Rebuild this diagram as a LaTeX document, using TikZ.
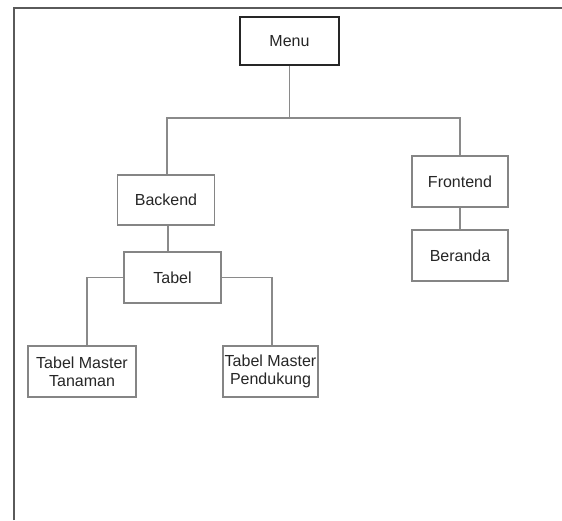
\documentclass[tikz,border=0pt]{standalone}
\usepackage{fontspec}
\setmainfont{Liberation Sans}
\definecolor{boxline}{HTML}{858585}
\definecolor{conn}{HTML}{8A8A8A}
\definecolor{frameline}{HTML}{5A5A5A}
\definecolor{txt}{HTML}{262626}
\begin{document}
\begin{tikzpicture}[x=1pt,y=-1pt,
  box/.style={draw=boxline,line width=1.1pt,rectangle,inner sep=0pt,align=center,
    text=txt,font=\fontsize{16}{18}\selectfont,minimum height=51pt},
  mainbox/.style={box,draw=black!85,line width=1.8pt},
  link/.style={draw=conn,line width=1.1pt}]
\useasboundingbox (0,0) rectangle (562,520);
\fill[white] (0,0) rectangle (562,520);
\draw[frameline,line width=1.6pt] (14,520) -- (14,8) -- (562,8);

\node[mainbox,minimum width=99pt,minimum height=48pt] (menu) at (289.5,41) {Menu};
\node[box,minimum width=97pt,minimum height=50pt] (backend) at (166,200) {Backend};
\node[box,minimum width=96pt] (frontend) at (460,181.5) {Frontend};
\node[box,minimum width=96pt] (beranda) at (460,255.5) {Beranda};
\node[box,minimum width=97pt] (tabel) at (172.5,277.5) {Tabel};
\node[box,minimum width=108pt] (tanaman) at (82,371.5) {Tabel Master\\Tanaman};
\node[box,minimum width=95pt] (pendukung) at (270.5,371.5) {Tabel Master\\Pendukung};

\coordinate (bus) at (289.5,118);
\draw[link] (menu.south) -- (bus);
\draw[link] ([xshift=1pt]backend.north) |- (bus) -| (frontend.north);
\draw[link] ([xshift=2pt]backend.south) -- ([xshift=2pt]backend.south |- tabel.north);
\draw[link] (frontend.south) -- (beranda.north);
\draw[link] (tabel.west) -| ([xshift=5pt]tanaman.north);
\draw[link] (tabel.east) -| ([xshift=1.5pt]pendukung.north);
\end{tikzpicture}
\end{document}
